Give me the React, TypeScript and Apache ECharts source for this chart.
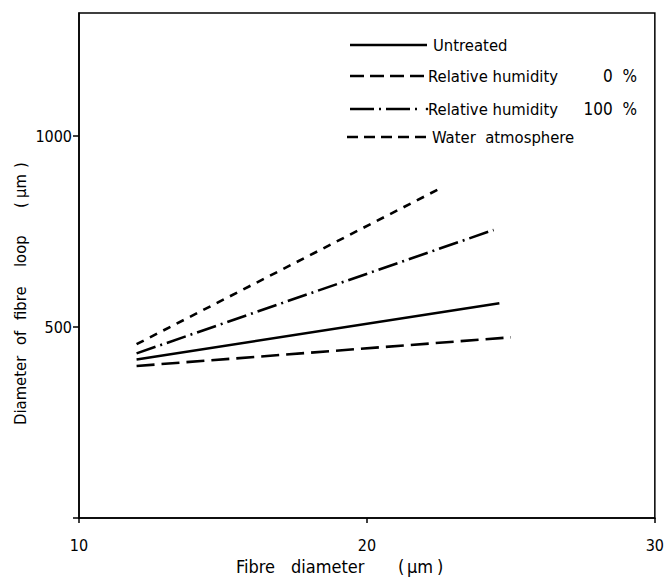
import React, { useEffect, useRef } from "react";
import * as echarts from "echarts";

const seriesNames = ["Untreated", "Relative humidity", "Relative humidity", "Water  atmosphere"];
const seriesSuffix = ["", "0  %", "100  %", ""];
const untreatedX = [12, 24.6];
const untreatedY = [415, 562];
const rh0X = [12, 25.0];
const rh0Y = [398, 473];
const rh100X = [12, 24.4];
const rh100Y = [431, 754];
const waterX = [12, 22.6];
const waterY = [455, 865];
const xTicks = [10, 20, 30];
const yTickLabels = [500, 1000];
const yNameWords = ["Diameter", "of", "fibre", "loop", "(", "μm", ")"];
const xNameWords = ["Fibre", "diameter", "(", "μm", ")"];

const FONT = "'DejaVu Sans Condensed', 'Liberation Sans Narrow', 'DejaVu Sans', sans-serif";

const pair = (xs: number[], ys: number[]) => xs.map((x, i) => [x, ys[i]]);

export default function App() {
  const ref = useRef<HTMLDivElement>(null);
  useEffect(() => {
    if (!ref.current) return;
    const chart = echarts.init(ref.current, undefined, { renderer: "svg" });
    const lineBase = { type: "line", showSymbol: false, symbol: "none", silent: true };
    const legendDash: (number[] | null)[] = [null, [14, 6], [24, 5, 2, 5], [11, 6]];
    const legendY = [45, 76, 109, 137];
    const legendX0 = [350, 350, 350, 347];
    const legendX1 = [427, 427, 419, 430];
    const textX = [433, 428, 428, 432];
    const graphic: any[] = [];
    for (let i = 0; i < 4; i++) {
      graphic.push({
        type: "line",
        shape: { x1: legendX0[i], y1: legendY[i], x2: legendX1[i], y2: legendY[i] },
        style: { stroke: "#000", lineWidth: 2.5, lineDash: legendDash[i] },
      });
      graphic.push({
        type: "text",
        x: textX[i],
        y: legendY[i],
        style: { text: seriesNames[i], font: `16.5px ${FONT}`, fill: "#000", verticalAlign: "middle" },
      });
      if (seriesSuffix[i]) {
        graphic.push({
          type: "text",
          x: 637,
          y: legendY[i],
          style: { text: seriesSuffix[i], font: `17px ${FONT}`, fill: "#000", align: "right", verticalAlign: "middle" },
        });
      }
    }
    graphic.push({ type: "circle", shape: { cx: 427, cy: 109, r: 1.3 }, style: { fill: "#000" } });
    const yNameStart = [425, 345, 320, 267, 208, 198, 168];
    yNameWords.forEach((w, i) => {
      graphic.push({
        type: "text",
        x: 20,
        y: yNameStart[i],
        rotation: Math.PI / 2,
        style: { text: w, font: `16.5px ${FONT}`, fill: "#000", align: "left", verticalAlign: "middle" },
      });
    });
    const xNameStart = [236, 291, 398, 407, 437];
    xNameWords.forEach((w, i) => {
      graphic.push({
        type: "text",
        x: xNameStart[i],
        y: 566,
        style: { text: w, font: `18px ${FONT}`, fill: "#000", align: "left", verticalAlign: "middle" },
      });
    });
    chart.setOption({
      animation: false,
      backgroundColor: "#fff",
      grid: { left: 79, right: 5, top: 13, bottom: 62, show: true, borderColor: "#000", borderWidth: 1.5, backgroundColor: "transparent" },
      xAxis: {
        type: "value",
        min: 10,
        max: 30,
        interval: 10,
        axisLine: { lineStyle: { color: "#000", width: 1.5 } },
        axisTick: { show: true, length: 5, lineStyle: { color: "#000", width: 1.5 } },
        axisLabel: {
          fontFamily: FONT, fontSize: 16, color: "#000", margin: 19,
          formatter: (v: number) => (xTicks.includes(v) ? String(v) : ""),
        },
        splitLine: { show: false },
      },
      yAxis: {
        type: "value",
        min: 0,
        max: 1322,
        interval: 500,
        axisLine: { show: true, lineStyle: { color: "#000", width: 1.5 } },
        axisTick: { show: true, length: 6, lineStyle: { color: "#000", width: 1.5 } },
        axisLabel: {
          fontFamily: FONT, fontSize: 16, color: "#000", margin: 7, showMaxLabel: false,
          formatter: (v: number) => (yTickLabels.includes(v) ? String(v) : ""),
        },
        splitLine: { show: false },
      },
      graphic,
      series: [
        { ...lineBase, name: "Untreated", data: pair(untreatedX, untreatedY), lineStyle: { color: "#000", width: 2.6, type: "solid" } },
        { ...lineBase, name: "RH 0%", data: pair(rh0X, rh0Y), lineStyle: { color: "#000", width: 2.6, type: [18, 7] } },
        { ...lineBase, name: "RH 100%", data: pair(rh100X, rh100Y), lineStyle: { color: "#000", width: 2.6, type: [20, 5, 2, 5] } },
        { ...lineBase, name: "Water atmosphere", data: pair(waterX, waterY), lineStyle: { color: "#000", width: 2.6, type: [8, 7] } },
      ],
    });
    return () => chart.dispose();
  }, []);
  return <div ref={ref} style={{ position: "fixed", left: 0, top: 0, width: 667, height: 580 }} />;
}
